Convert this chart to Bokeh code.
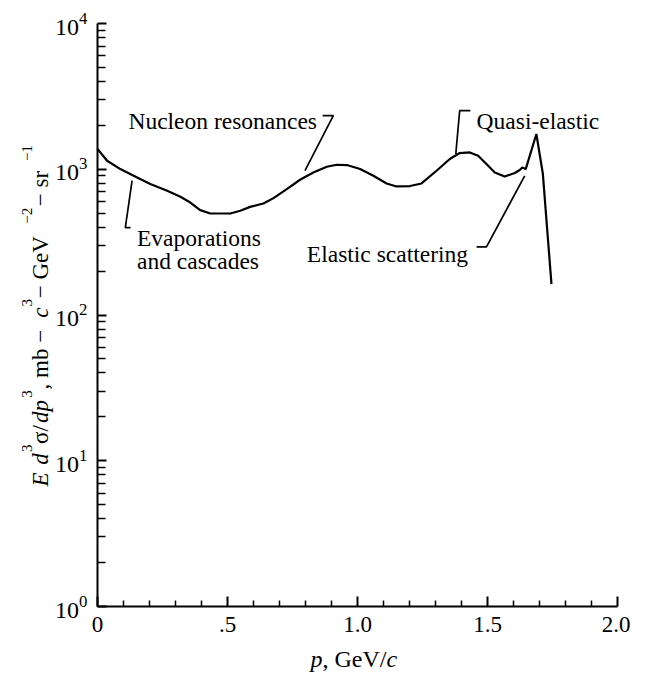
from math import pi
from bokeh.plotting import figure
from bokeh.models import (Range1d, FixedTicker, LogTickFormatter, Label,
                          LinearAxis, LogAxis)
from bokeh.embed import file_html
from bokeh.resources import INLINE

# ---------------- data ----------------
p_gev = [0.0, 0.037, 0.088, 0.139, 0.203, 0.268, 0.319, 0.357, 0.395, 0.434,
         0.511, 0.549, 0.587, 0.638, 0.677, 0.728, 0.779, 0.830, 0.882, 0.920,
         0.959, 1.010, 1.061, 1.112, 1.150, 1.202, 1.246, 1.304, 1.355, 1.393,
         1.432, 1.464, 1.496, 1.528, 1.566, 1.605, 1.624, 1.634, 1.647, 1.688,
         1.713, 1.726, 1.746]
cross_section = [1377, 1143, 1003, 902, 791, 711, 647, 591, 524, 497,
                 497, 519, 552, 582, 634, 731, 847, 951, 1040, 1074,
                 1069, 1003, 902, 799, 762, 767, 799, 977, 1175, 1292,
                 1305, 1238, 1086, 951, 892, 942, 988, 1029, 1003, 1746,
                 927, 466, 163]

x_major_ticks = [0, 0.5, 1, 1.5, 2]
x_tick_labels = ["0", ".5", "1.0", "1.5", "2.0"]
x_minor_ticks = [0.1, 0.2, 0.3, 0.4, 0.6, 0.7, 0.8, 0.9, 1.1, 1.2, 1.3, 1.4,
                 1.6, 1.7, 1.8, 1.9]
y_major_ticks = [1, 10, 100, 1000, 10000]
y_minor_ticks = [m * 10 ** k for k in range(4) for m in range(2, 10)]

annotation_texts = ["Nucleon resonances", "Evaporations", "and cascades",
                    "Quasi-elastic", "Elastic scattering"]
annotation_x = [0.119, 0.152, 0.152, 1.458, 1.425]
annotation_y = [2154, 340, 235, 2154, 263]
annotation_align = ["left", "left", "left", "left", "right"]

leader_x = [[0.133, 0.107, 0.127], [0.866, 0.907, 0.798],
            [1.434, 1.393, 1.378], [1.458, 1.496, 1.643]]
leader_y = [[834, 398, 398], [2333, 2333, 977],
            [2523, 2523, 1271], [293, 293, 902]]

ylabel_parts = ["E", "d", "3", "\u03c3/", "dp", "3", ", mb \u2212 ", "c", "3",
                " \u2212 GeV", "\u22122", " \u2212 sr", "\u22121"]
ylabel_styles = ["italic", "italic", "sup", "normal", "italic", "sup", "normal",
                 "italic", "sup", "normal", "sup", "normal", "sup"]
ylabel_gap_before = [0, 1, 0, 0, 0, 0, 0, 0, 0, 0, 0, 0, 0]  # a space before "d"

xlabel_parts = ["p", ", GeV/", "c"]
xlabel_styles = ["italic", "normal", "italic"]

# ---------------- styling ----------------
FONT = "Liberation Serif"
# Times / Liberation Serif advance widths (per 1000 em)
ADV = {"E": 611, " ": 250, "d": 500, "3": 500, "\u03c3": 549, "/": 278,
       "p": 500, ",": 250, "m": 778, "b": 500, "\u2212": 564, "c": 444,
       "G": 722, "e": 444, "V": 722, "2": 500, "s": 389, "r": 333, "1": 500}


def adv(text, size):
    return sum(ADV.get(ch, 500) for ch in text) * size / 1000.0


W, H = 630, 672
# frame fills the canvas; axes are drawn at fixed data locations
X0, PX = 97.0, 260.0          # pixel of x = 0, pixels per GeV/c
Y0, PD = 606.0, 145.75        # pixel of y = 1, pixels per decade
x_lo, x_hi = -X0 / PX, (W - X0) / PX
y_lo, y_hi = 10 ** ((Y0 - H) / PD), 10 ** (Y0 / PD)

p = figure(width=W, height=H, min_border=0,
           x_range=Range1d(x_lo, x_hi), y_range=Range1d(y_lo, y_hi),
           y_axis_type="log", x_axis_location=None, y_axis_location=None,
           output_backend="svg", toolbar_location=None)

p.outline_line_color = None
p.xgrid.visible = False
p.ygrid.visible = False
p.background_fill_color = "white"
p.border_fill_color = "white"

# x axis
xa = LinearAxis(fixed_location=1, bounds=(0, 2),
                ticker=FixedTicker(ticks=x_major_ticks, minor_ticks=x_minor_ticks))
xa.major_label_overrides = {t: s for t, s in zip(x_major_ticks, x_tick_labels)}
xa.axis_line_width = 2
xa.axis_line_color = "black"
xa.major_tick_in = 10
xa.major_tick_out = 0
xa.minor_tick_in = 6
xa.minor_tick_out = 0
xa.major_tick_line_width = 2
xa.minor_tick_line_width = 1.5
xa.major_tick_line_color = "black"
xa.minor_tick_line_color = "black"
xa.major_label_text_font = FONT
xa.major_label_text_font_size = "23px"
xa.major_label_text_color = "black"
xa.major_label_standoff = 10
p.add_layout(xa, "below")

# y axis
ya = LogAxis(fixed_location=0, bounds=(1, 10000),
             ticker=FixedTicker(ticks=y_major_ticks, minor_ticks=y_minor_ticks),
             formatter=LogTickFormatter())
ya.axis_line_width = 2
ya.axis_line_color = "black"
ya.major_tick_in = 9
ya.major_tick_out = 0
ya.minor_tick_in = 8
ya.minor_tick_out = 0
ya.major_tick_line_width = 2
ya.minor_tick_line_width = 1.5
ya.major_tick_line_color = "black"
ya.minor_tick_line_color = "black"
ya.major_label_text_font = FONT
ya.major_label_text_font_size = "24px"
ya.major_label_text_color = "black"
ya.major_label_standoff = 10
p.add_layout(ya, "left")

# curve
p.line(p_gev, cross_section, line_width=2.2, line_color="black")

# leader lines
p.multi_line(leader_x, leader_y, line_width=1.7, line_color="black")

# annotations
for t, x, y, al in zip(annotation_texts, annotation_x, annotation_y, annotation_align):
    p.add_layout(Label(x=x, y=y, text=t, text_align=al, text_baseline="alphabetic",
                       text_font=FONT, text_font_size="23.5px", text_color="black"))

# x axis title (pieces with italics), centred under x = 1.0
XF = 24
xoff = -47.0
for part, st in zip(xlabel_parts, xlabel_styles):
    p.add_layout(Label(x=1.0, y=1, x_offset=xoff, y_offset=-52, text=part,
                       text_align="left", text_baseline="alphabetic",
                       text_font=FONT, text_font_size=f"{XF}px",
                       text_font_style="italic" if st == "italic" else "normal",
                       text_color="black"))
    xoff += adv(part, XF)

# y axis title (rotated pieces with italics and superscripts)
YF, YS = 23, 15
natural = []
for part, st, gap in zip(ylabel_parts, ylabel_styles, ylabel_gap_before):
    size = YS if st == "sup" else YF
    natural.append((gap * adv(" ", YF), adv(part, size)))
total = sum(g + w for g, w in natural)
scale = 343.0 / total
along = 0.0
for (g, w), part, st in zip(natural, ylabel_parts, ylabel_styles):
    along += g * scale
    size = YS if st == "sup" else YF
    p.add_layout(Label(x=0, y=1, x_offset=-57 - (14 if st == "sup" else 0),
                       y_offset=120 + along, text=part, angle=pi / 2,
                       text_align="left", text_baseline="alphabetic",
                       text_font=FONT, text_font_size=f"{size}px",
                       text_font_style="italic" if st == "italic" else "normal",
                       text_color="black"))
    along += w * scale

open("out.html", "w").write(file_html(p, INLINE))
